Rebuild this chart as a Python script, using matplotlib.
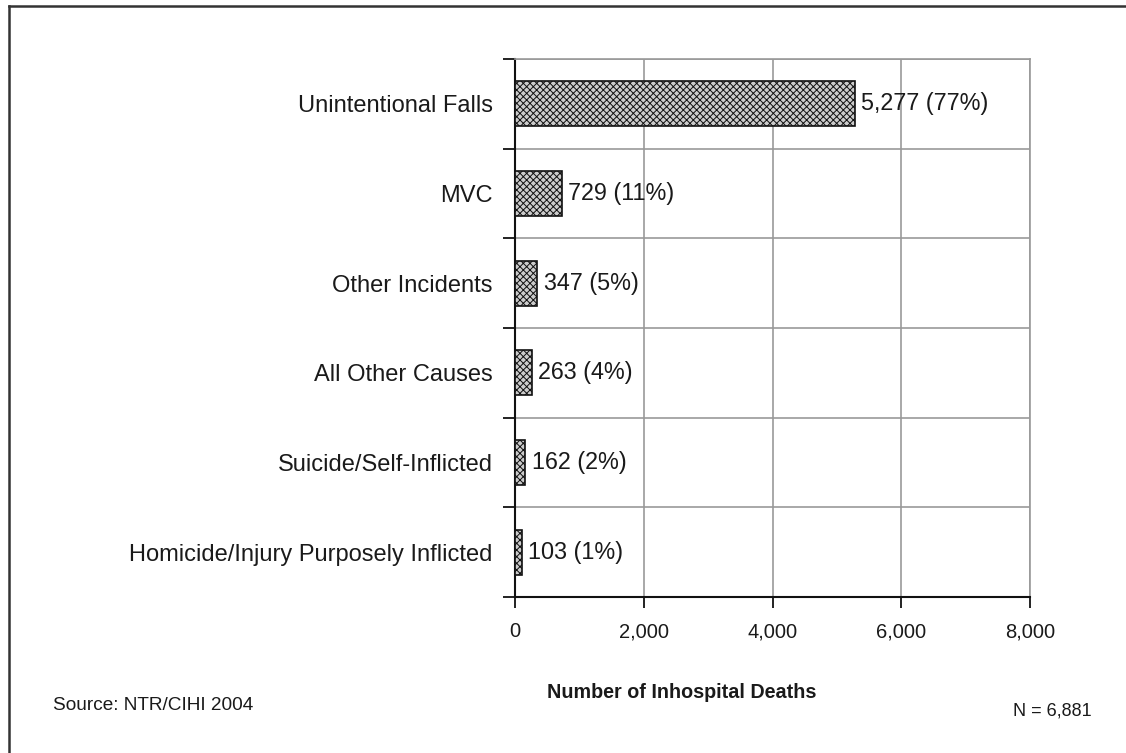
"""Inhospital deaths by injury cause (NTR/CIHI 2004)."""

import matplotlib
matplotlib.use("Agg")
import matplotlib.pyplot as plt
from matplotlib.lines import Line2D
from matplotlib.ticker import FuncFormatter
import numpy as np

plt.rcParams["font.family"] = ["Liberation Sans", "DejaVu Sans"]
plt.rcParams["hatch.linewidth"] = 0.7
plt.rcParams["hatch.color"] = "#222222"

CATEGORIES = [
    "Unintentional Falls",
    "MVC",
    "Other Incidents",
    "All Other Causes",
    "Suicide/Self-Inflicted",
    "Homicide/Injury Purposely Inflicted",
]
DEATHS = [5277, 729, 347, 263, 162, 103]
PERCENTS = [77, 11, 5, 4, 2, 1]
X_TICKS = [0, 2000, 4000, 6000, 8000]

TEXT = "#1a1a1a"
GRID = "#999999"

fig = plt.figure(figsize=(11.26, 7.53), dpi=100)
ax = fig.add_axes([515 / 1126, 1 - 597 / 753, 515 / 1126, 538 / 753])

ypos = np.arange(len(CATEGORIES))
ax.barh(ypos, DEATHS, height=0.5, color="#cccccc", edgecolor="#111111",
        linewidth=1.2, hatch="xxxxx", zorder=3)

for y, val, pct in zip(ypos, DEATHS, PERCENTS):
    ax.text(val + 100, y, f"{val:,} ({pct}%)", va="center", ha="left",
            fontsize=16.8, color=TEXT, zorder=4)

ax.set_xlim(0, 8000)
ax.set_ylim(len(CATEGORIES) - 0.5, -0.5)

# boundaries as major ticks (grid + tick marks), names on minor ticks
ax.set_yticks(np.arange(len(CATEGORIES) + 1) - 0.5)
ax.set_yticklabels([])
ax.set_yticks(ypos, minor=True)
ax.set_yticklabels(CATEGORIES, minor=True, fontsize=17, color=TEXT)
ax.tick_params(axis="y", which="minor", length=0, pad=16)
ax.tick_params(axis="y", which="major", length=9, width=1.3, color="#111111")

ax.set_xticks(X_TICKS)
ax.xaxis.set_major_formatter(FuncFormatter(lambda v, _: f"{int(v):,}"))
ax.tick_params(axis="x", length=8, width=1.3, color="#111111",
               labelsize=14.5, labelcolor=TEXT, pad=10)

ax.grid(True, color=GRID, linewidth=1.2, zorder=0)
ax.set_axisbelow(True)

for side in ("top", "right"):
    ax.spines[side].set_color(GRID)
    ax.spines[side].set_linewidth(1.2)
for side in ("left", "bottom"):
    ax.spines[side].set_color("#111111")
    ax.spines[side].set_linewidth(1.5)

fig.text(682 / 1126, 1 - 693 / 753, "Number of Inhospital Deaths", fontsize=14.2,
         fontweight="bold", color=TEXT, ha="center", va="center")
fig.text(53 / 1126, 1 - 705 / 753, "Source: NTR/CIHI 2004", fontsize=13.7,
         color=TEXT, ha="left", va="center")
fig.text(1092 / 1126, 1 - 711 / 753, "N = 6,881", fontsize=13,
         color=TEXT, ha="right", va="center")

# frame lines along the left and top edge
fig.add_artist(Line2D([9 / 1126, 9 / 1126], [0, 1 - 6 / 753],
                      transform=fig.transFigure, color="#333333", linewidth=1.8))
fig.add_artist(Line2D([9 / 1126, 1], [1 - 6 / 753, 1 - 6 / 753],
                      transform=fig.transFigure, color="#333333", linewidth=1.8))

fig.savefig("out.png", dpi=100)
plt.close(fig)
